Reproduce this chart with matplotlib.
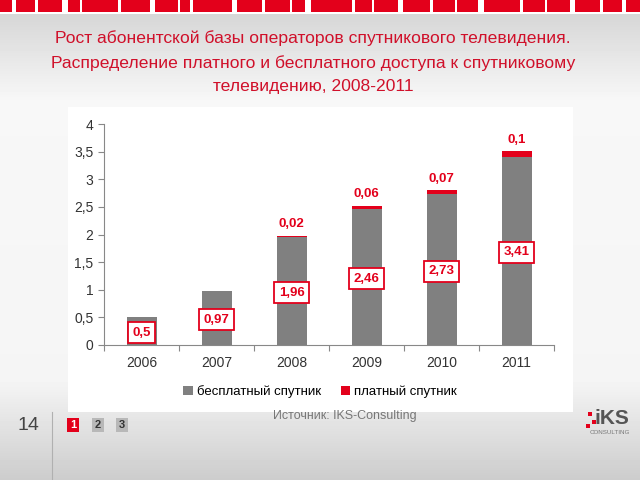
#!/usr/bin/env python3
"""
Satellite TV subscriber base 2006-2011 (free vs paid), slide recreation.
"""

import numpy as np
import matplotlib
matplotlib.use('Agg')
import matplotlib.pyplot as plt
from matplotlib.patches import Rectangle

plt.rcParams['font.family'] = ['Liberation Sans', 'DejaVu Sans']

years = ['2006', '2007', '2008', '2009', '2010', '2011']
free_sat = [0.5, 0.97, 1.96, 2.46, 2.73, 3.41]
paid_sat = [0.0, 0.0, 0.02, 0.06, 0.07, 0.1]
paid_labels = ['', '', '0,02', '0,06', '0,07', '0,1']
y_ticks = [0, 0.5, 1, 1.5, 2, 2.5, 3, 3.5, 4]
y_tick_labels = ['0', '0,5', '1', '1,5', '2', '2,5', '3', '3,5', '4']

title = ("Рост абонентской базы операторов спутникового телевидения.\n"
         "Распределение платного и бесплатного доступа к спутниковому\n"
         "телевидению, 2008-2011")

RED = '#e3001b'
GREY = '#808080'
W, H = 640, 480

fig = plt.figure(figsize=(6.4, 4.8), dpi=100)

# slide background with vertical gradient (pixel coordinates)
bg = fig.add_axes([0, 0, 1, 1])
bg.set_xlim(0, W)
bg.set_ylim(H, 0)
bg.axis('off')
rows = np.arange(H)
shade = np.interp(rows, [0, 14, 100, 380, 480], [0.83, 0.84, 0.97, 0.96, 0.80])
bg.imshow(np.tile(shade[:, None], (1, 4)), cmap='gray', vmin=0, vmax=1,
          extent=[0, W, H, 0], aspect='auto')

# decorative top stripe
bg.add_patch(Rectangle((0, 0), W, 12, color=RED, lw=0))
gaps = [(12, 4), (35, 3), (62, 6), (80, 2), (118, 3), (150, 5), (178, 2), (190, 3),
        (232, 5), (262, 3), (290, 2), (305, 6), (352, 3), (372, 2), (398, 5),
        (430, 3), (455, 2), (478, 6), (520, 3), (545, 2), (570, 5), (600, 3), (622, 4)]
for gx, gw in gaps:
    bg.add_patch(Rectangle((gx, 0), gw, 12, color='white', lw=0))
bg.add_patch(Rectangle((0, 12), W, 2, color='white', lw=0))

# white chart panel
bg.add_patch(Rectangle((68, 107), 505, 305, color='white', lw=0))

bg.text(313, 62, title, ha='center', va='center', color='#d0102a',
        fontsize=12.6, linespacing=1.7)

bg.text(345, 416, 'Источник: IKS-Consulting', ha='center', va='center',
        color='#777777', fontsize=9)

# footer
bg.text(28, 425, '14', ha='center', va='center', color='#444444', fontsize=14)
bg.plot([52, 52], [412, 480], color='#b0b0b0', lw=0.8)
for i, (bx, fc) in enumerate([(67, RED), (92, '#b8b8b8'), (116, '#b8b8b8')]):
    bg.add_patch(Rectangle((bx, 418), 12, 14, color=fc, lw=0))
    bg.text(bx + 6, 425, str(i + 1), ha='center', va='center', fontsize=8,
            fontweight='bold', color='white' if i == 0 else '#333333')

# logo
bg.text(612, 419, 'iKS', ha='center', va='center', fontsize=15,
        fontweight='bold', color='#555555')
for sx, sy in [(588, 412), (592, 420), (586, 424)]:
    bg.add_patch(Rectangle((sx, sy), 4, 4, color=RED, lw=0))
bg.text(610, 433, 'CONSULTING', ha='center', va='center', fontsize=4.5,
        color='#777777')

# chart
ax = fig.add_axes([104 / W, 1 - 345 / H, 450 / W, 221 / H])
ax.set_facecolor('none')
x = np.arange(len(years))
bw = 0.4
ax.bar(x, free_sat, bw, color=GREY, label='бесплатный спутник', zorder=2)
ax.bar(x, paid_sat, bw, bottom=free_sat, color=RED, label='платный спутник', zorder=2)

for xi, f, p, pl in zip(x, free_sat, paid_sat, paid_labels):
    ax.text(xi, f / 2 - 0.03, str(f).replace('.', ','), ha='center', va='center',
            color=RED, fontsize=9.5, fontweight='bold', zorder=3,
            bbox=dict(boxstyle='square,pad=0.35', fc='white', ec=RED, lw=1.3))
    if pl:
        ax.text(xi, f + p + 0.1, pl, ha='center', va='bottom', color=RED,
                fontsize=9.5, fontweight='bold')

ax.set_xlim(-0.5, len(years) - 0.5)
ax.set_ylim(0, 4)
ax.set_yticks(y_ticks)
ax.set_yticklabels(y_tick_labels)
ax.set_xticks(np.arange(-0.5, len(years), 1))
ax.set_xticklabels([])
ax.set_xticks(x, minor=True)
ax.set_xticklabels(years, minor=True)
ax.tick_params(axis='x', which='minor', length=0, pad=8, labelsize=10, colors='#333333')
ax.tick_params(axis='x', which='major', length=4, color='#888888', direction='out')
ax.tick_params(axis='y', length=4, color='#888888', labelsize=10, labelcolor='#333333')
for s in ['top', 'right']:
    ax.spines[s].set_visible(False)
for s in ['left', 'bottom']:
    ax.spines[s].set_color('#888888')

ax.legend(loc='center', bbox_to_anchor=(0.48, -0.21), ncol=2, frameon=False,
          fontsize=9.5, handlelength=0.7, handleheight=0.7, handletextpad=0.3,
          columnspacing=1.5)

plt.savefig('out.png', dpi=100)
